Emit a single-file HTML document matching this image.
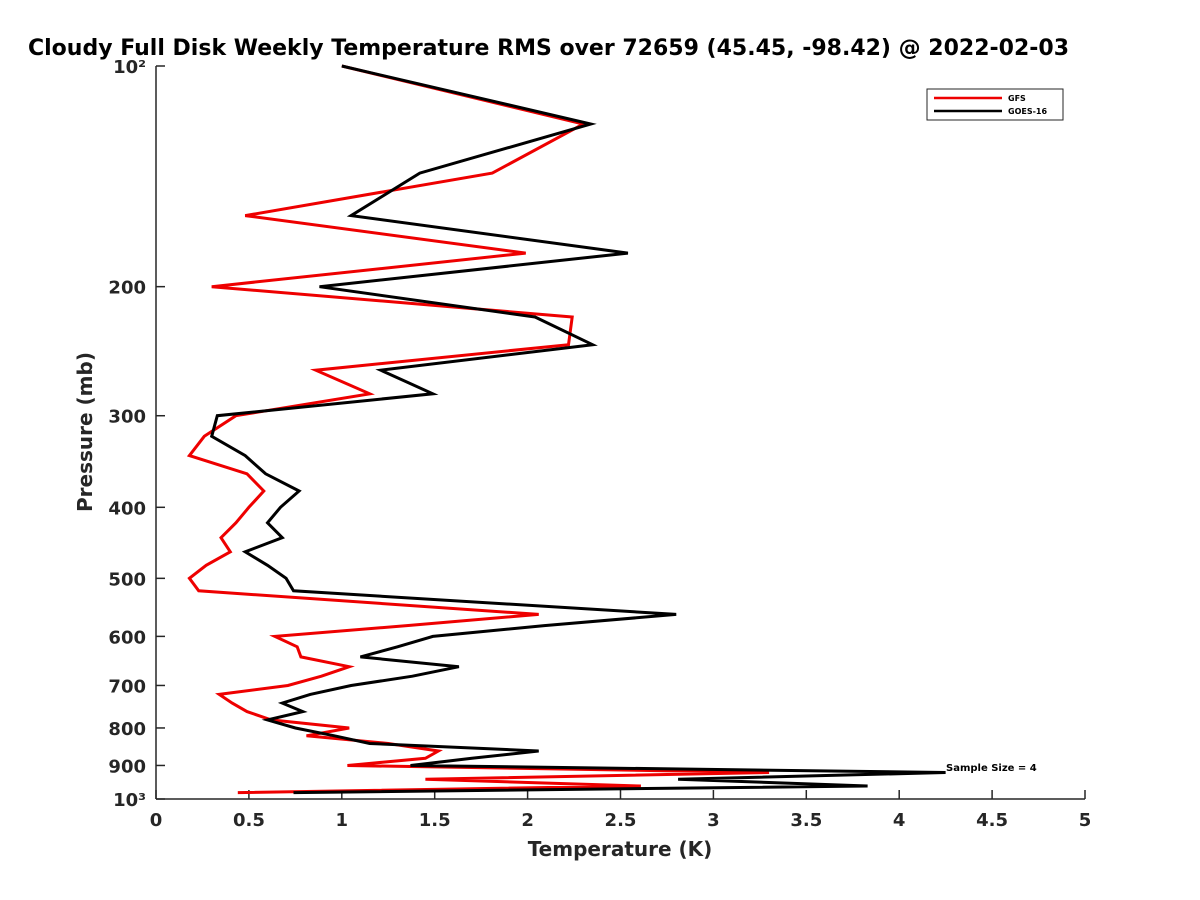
<!DOCTYPE html>
<html><head><meta charset="utf-8"><style>
body{margin:0;background:#fff}
svg{display:block;font-family:"DejaVu Sans","Liberation Sans",sans-serif}
</style></head><body>
<svg id="chart" width="1200" height="900">
<text x="28" y="55" font-size="22" font-weight="bold" fill="#000">Cloudy Full Disk Weekly Temperature RMS over 72659 (45.45, -98.42) @ 2022-02-03</text>
<g id="axes"></g>
<g id="series"></g>
<text x="92" y="432" font-size="20" font-weight="bold" fill="#262626" text-anchor="middle" transform="rotate(-90 92 432)">Pressure (mb)</text>
<text x="620" y="856" font-size="20" font-weight="bold" fill="#262626" text-anchor="middle">Temperature (K)</text>
<g>
<rect x="927" y="89" width="136" height="31" fill="#fff" stroke="#262626" stroke-width="1"/>
<line x1="934" y1="98" x2="1002" y2="98" stroke="#e00" stroke-width="2.5"/>
<text x="1008" y="101" font-size="8" font-weight="bold">GFS</text>
<line x1="934" y1="111" x2="1002" y2="111" stroke="#000" stroke-width="2.5"/>
<text x="1008" y="114" font-size="8" font-weight="bold">GOES-16</text>
</g>
<text x="946" y="771" font-size="10" font-weight="bold">Sample Size = 4</text>
</svg>
<script>
const pressures=[100,120,140,160,180,200,220,240,260,280,300,320,340,360,380,400,420,440,460,480,500,520,560,580,600,620,640,660,680,700,720,740,760,780,800,820,840,860,880,900,920,940,960,980];
const gfsRms=[1.00,2.30,1.81,0.48,1.99,0.30,2.24,2.22,0.86,1.15,0.43,0.26,0.18,0.49,0.58,0.50,0.43,0.35,0.40,0.27,0.18,0.23,2.06,1.35,0.64,0.76,0.78,1.04,0.89,0.71,0.34,0.41,0.49,0.62,1.04,0.81,1.25,1.52,1.45,1.03,3.30,1.45,2.61,0.44];
const goesRms=[1.00,2.34,1.42,1.05,2.54,0.88,2.04,2.35,1.21,1.49,0.33,0.30,0.48,0.59,0.77,0.67,0.60,0.68,0.48,0.60,0.70,0.74,2.80,2.09,1.49,1.30,1.10,1.63,1.38,1.05,0.83,0.68,0.79,0.60,0.75,0.96,1.15,2.06,1.70,1.37,4.25,2.81,3.83,0.74];
const xTicks=[0,0.5,1,1.5,2,2.5,3,3.5,4,4.5,5];
const xTickLabels=["0","0.5","1","1.5","2","2.5","3","3.5","4","4.5","5"];
const yTicks=[100,200,300,400,500,600,700,800,900,1000];
const yTickLabels=["10²","200","300","400","500","600","700","800","900","10³"];
const X0=156,X1=1085,Y0=66,Y1=799;
function xs(v){return X0+(v-0)/(5-0)*(X1-X0);}
function ys(p){return Y0+(Math.log10(p)-2)*(Y1-Y0);}
const NS="http://www.w3.org/2000/svg";
const axes=document.getElementById('axes');
function mk(tag,attrs,parent){const e=document.createElementNS(NS,tag);for(const k in attrs)e.setAttribute(k,attrs[k]);parent.appendChild(e);return e;}
let l=mk('line',{x1:X0,y1:Y0,x2:X0,y2:Y1,stroke:'#262626','stroke-width':1.5},axes);


l=mk('line',{x1:X0,y1:Y1,x2:X1,y2:Y1,stroke:'#262626','stroke-width':1.5},axes);


xTicks.forEach((v,i)=>{
 const t=mk('line',{x1:xs(v),y1:Y1,x2:xs(v),y2:Y1-9,stroke:'#262626','stroke-width':1.5},axes);
 
 
 const tx=mk('text',{x:xs(v),y:Y1+27,'font-size':18,'font-weight':'bold',fill:'#262626','text-anchor':'middle'},axes);
 tx.textContent=xTickLabels[i];
 
 
});
yTicks.forEach((p,i)=>{
 const t=mk('line',{x1:X0,y1:ys(p),x2:X0+9,y2:ys(p),stroke:'#262626','stroke-width':1.5},axes);
 
 
 const tx=mk('text',{x:X0-10,y:ys(p)+7,'font-size':18,'font-weight':'bold',fill:'#262626','text-anchor':'end'},axes);
 tx.textContent=yTickLabels[i];
 
 
});
const ser=document.getElementById('series');
function draw(vals,color,name){
 const d=vals.map((v,i)=>(i?'L':'M')+xs(v).toFixed(1)+','+ys(pressures[i]).toFixed(1)).join(' ');
 const p=mk('path',{d:d,fill:'none',stroke:color,'stroke-width':3,'stroke-linejoin':'miter'},ser);
 
 
}
draw(gfsRms,'#e00','gfs-line');
draw(goesRms,'#000','goes16-line');
</script>
</body></html>
